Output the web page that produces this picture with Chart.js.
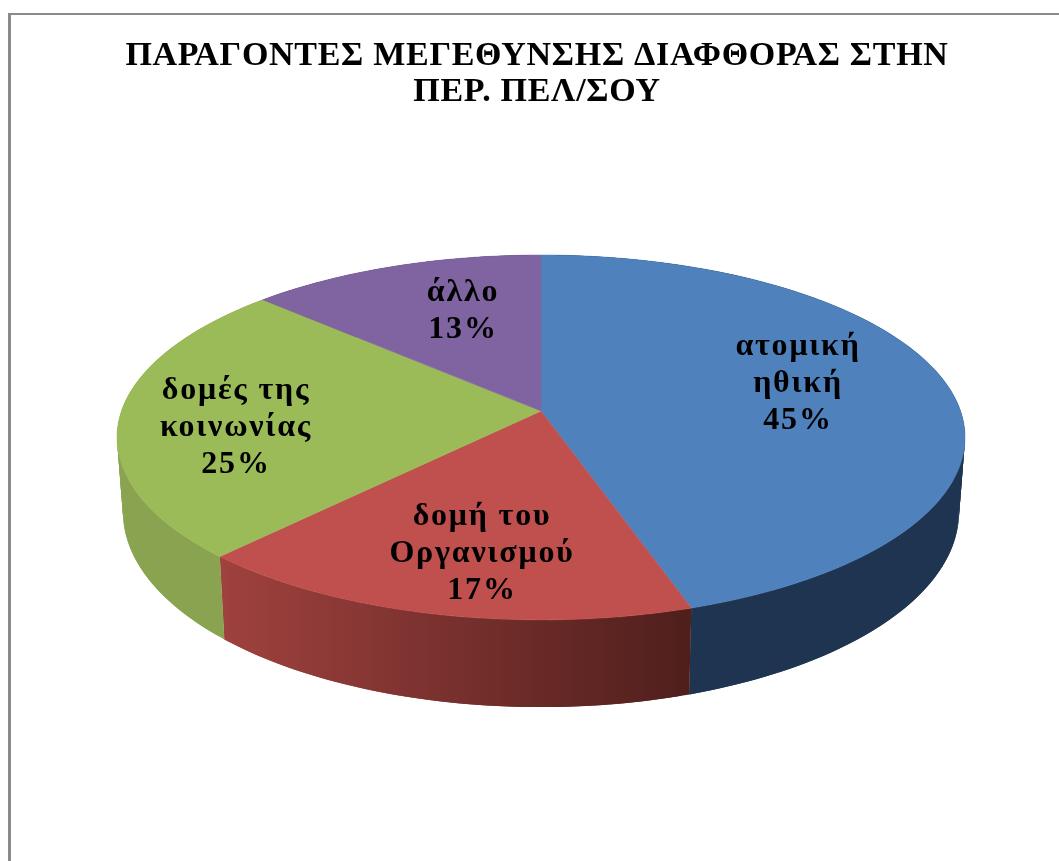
<!DOCTYPE html>
<html>
<head>
<meta charset="utf-8">
<title>Παράγοντες μεγέθυνσης διαφθοράς</title>
<script src="https://cdn.jsdelivr.net/npm/chart.js@4/dist/chart.umd.min.js"></script>
<style>
    html, body { margin: 0; padding: 0; background: #fff; overflow: hidden; }
    .chart-frame {
        position: absolute;
        left: 8px;
        top: 13px;
        width: 1048px;
        height: 846px;
        border-left: 3px solid #8a8a8a;
        border-top: 2px solid #8a8a8a;
    }
    canvas { display: block; }
</style>
</head>
<body>
<div class="chart-frame">
    <canvas id="myChart" width="1048" height="846"></canvas>
</div>
<script>
var titleLines = ['ΠΑΡΑΓΟΝΤΕΣ ΜΕΓΕΘΥΝΣΗΣ ΔΙΑΦΘΟΡΑΣ ΣΤΗΝ', 'ΠΕΡ. ΠΕΛ/ΣΟΥ'];
var categories = [['ατομική', 'ηθική'], ['δομή του', 'Οργανισμού'], ['δομές της', 'κοινωνίας'], ['άλλο']];
var values = [45, 17, 25, 13];
var faceColors = ['#4f81bd', '#c0504d', '#9bbb59', '#8064a2'];
var sideColorsLeft = ['#1f3450', '#9f413e', '#8aa350', '#54406d'];
var sideColorsRight = ['#1f3450', '#4f1f1c', '#7f9948', '#54406d'];

// +++++++++++++++++++++++++ PERSPECTIVE ++++++++++++++++++++++++++++++++++++

var tilt = 0.145;
var topRim = {cx: 530, cy: 396, a: 419.5, b: 178.6};
var bottomRim = {cx: 530, cy: 468.7, a: 413.6, b: 191};
var labelAnchors = [[787, 340], [471, 510], [225, 384], [452, 286]];
var labelLine = 37;

function project(angle, rim){
    var w = 1 - tilt * Math.sin(angle);
    return {
        x: rim.cx + rim.a * Math.cos(angle) / w,
        y: rim.cy + rim.b * Math.sin(angle) / w
    };
}

function sideFill(ctx, i, start, end){
    var p1 = project(start, bottomRim);
    var p2 = project(end, bottomRim);
    var left = Math.min(p1.x, p2.x);
    var right = Math.max(p1.x, p2.x);
    var grad = ctx.createLinearGradient(left, 0, right, 0);
    grad.addColorStop(0, sideColorsLeft[i]);
    grad.addColorStop(1, sideColorsRight[i]);
    return grad;
}

// the wall goes in small overlapping quads, it folds over itself near the left and right ends
function drawSide(ctx, i, start, end){
    var step = Math.PI / 180;
    ctx.fillStyle = sideFill(ctx, i, start, end);
    for(var a = start; a < end; a += step){
        var b = Math.min(a + 2 * step, end);
        var t1 = project(a, topRim), t2 = project(b, topRim);
        var b1 = project(a, bottomRim), b2 = project(b, bottomRim);
        ctx.beginPath();
        ctx.moveTo(t1.x, t1.y);
        ctx.lineTo(t2.x, t2.y);
        ctx.lineTo(b2.x, b2.y);
        ctx.lineTo(b1.x, b1.y);
        ctx.closePath();
        ctx.fill();
    }
}

function drawFace(ctx, i, start, end){
    ctx.beginPath();
    ctx.moveTo(topRim.cx, topRim.cy);
    for(var a = start; a < end; a += Math.PI / 360){
        var p = project(a, topRim);
        ctx.lineTo(p.x, p.y);
    }
    var last = project(end, topRim);
    ctx.lineTo(last.x, last.y);
    ctx.closePath();
    ctx.fillStyle = faceColors[i];
    ctx.strokeStyle = faceColors[i];
    ctx.lineWidth = 0.5;
    ctx.fill();
    ctx.stroke();
}

function drawLabels(ctx){
    ctx.fillStyle = '#000';
    ctx.textAlign = 'center';
    ctx.textBaseline = 'alphabetic';
    ctx.font = 'bold 32px "Liberation Serif"';
    ctx.letterSpacing = '1.8px';
    values.forEach(function(value, i){
        var lines = categories[i].concat([value + '%']);
        lines.forEach(function(line, n){
            ctx.fillText(line, labelAnchors[i][0], labelAnchors[i][1] + n * labelLine);
        });
    });
    ctx.letterSpacing = '0px';
}

// angles still come from the pie controller, only the drawing is replaced
var tiltedPie = {
    id: 'tiltedPie',
    beforeDraw: function(chart){
        chart.ctx.letterSpacing = '0.7px';
    },
    beforeDatasetDraw: function(chart, args){
        var ctx = chart.ctx;
        var arcs = args.meta.data;
        ctx.save();
        ctx.letterSpacing = '0px';
        arcs.forEach(function(arc, i){
            drawSide(ctx, i, arc.startAngle, arc.endAngle);
        });
        arcs.forEach(function(arc, i){
            drawFace(ctx, i, arc.startAngle, arc.endAngle);
        });
        drawLabels(ctx);
        ctx.restore();
        return false;
    }
};

// +++++++++++++++++++++++++ ADDING CHART ++++++++++++++++++++++++++++++++++++

var canvas = document.getElementById('myChart').getContext('2d');
var myChart = new Chart(canvas, {
    type: 'pie',
    data: {
        labels: categories.map(function(c){ return c.join(' '); }),
        datasets: [{
            data: values,
            backgroundColor: faceColors,
            borderWidth: 0
        }]
    },
    options: {
        responsive: false,
        animation: false,
        layout: {
            padding: {left: 4}
        },
        plugins: {
            legend: {display: false},
            tooltip: {enabled: false},
            title: {
                display: true,
                text: titleLines,
                color: '#000',
                padding: {top: 23, bottom: 10},
                font: {family: '"Liberation Serif"', size: 34, weight: 'bold', lineHeight: 1.06}
            }
        }
    },
    plugins: [tiltedPie]
});
</script>
</body>
</html>
